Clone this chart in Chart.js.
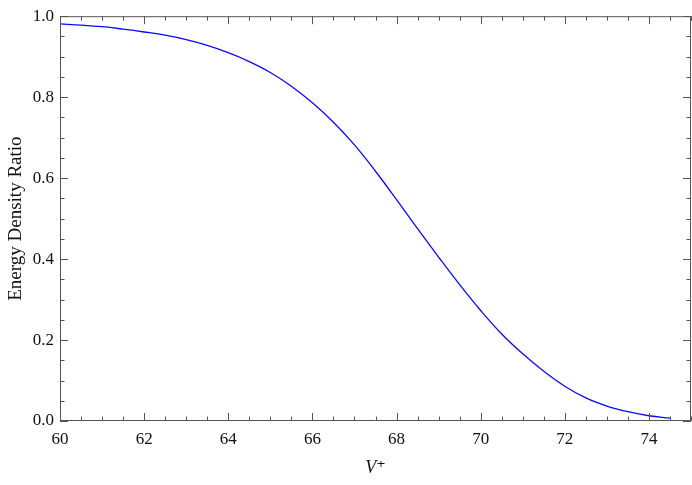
<!DOCTYPE html>
<html>
<head>
<meta charset="utf-8">
<script src="https://cdn.jsdelivr.net/npm/chart.js@4.4.0/dist/chart.umd.min.js"></script>
<style>
  body{margin:0;background:#fff;}
  canvas{display:block;}
</style>
</head>
<body>
<canvas id="chart" width="692" height="485"></canvas>
<script>
// ---------------------------
// Data
// ---------------------------
const vPlus = [60, 60.5, 61, 61.5, 62, 62.5, 63, 63.5, 64, 64.5, 65, 65.5, 66, 66.5, 67,
               67.5, 68, 68.5, 69, 69.5, 70, 70.5, 71, 71.5, 72, 72.5, 73, 73.5, 74, 74.5];
const ratio = [0.981, 0.978, 0.974, 0.968, 0.961, 0.953, 0.942, 0.928, 0.910, 0.888, 0.861, 0.827, 0.786, 0.738, 0.682,
               0.617, 0.547, 0.475, 0.405, 0.337, 0.273, 0.215, 0.166, 0.123, 0.086, 0.057, 0.037, 0.023, 0.013, 0.007];

const xTicks = [60, 62, 64, 66, 68, 70, 72, 74];
const yTicks = [0.0, 0.2, 0.4, 0.6, 0.8, 1.0];

const serif = "'Liberation Serif', 'DejaVu Serif', serif";
const frameColor = "#555";

// ---------------------------
// Frame with inside ticks (Mathematica style)
// ---------------------------
const framePlugin = {
  id: "frame",
  afterDraw(chart){
    const {ctx, chartArea:a, scales} = chart;
    const xs = scales.x, ys = scales.y;
    ctx.save();
    ctx.strokeStyle = frameColor;
    ctx.lineWidth = 1;
    ctx.beginPath();
    ctx.rect(a.left + 0.5, a.top + 0.5, a.right - a.left - 1, a.bottom - a.top - 1);
    ctx.stroke();

    ctx.beginPath();
    for(let i = 0; i <= 30; i++){
      const v = 60 + i*0.5;
      const px = Math.round(xs.getPixelForValue(v)) + 0.5;
      const len = (i % 4 === 0) ? 8 : 4.5;
      ctx.moveTo(px, a.bottom); ctx.lineTo(px, a.bottom - len);
      ctx.moveTo(px, a.top);    ctx.lineTo(px, a.top + len);
    }
    for(let i = 0; i <= 20; i++){
      const v = i*0.05;
      const py = Math.round(ys.getPixelForValue(v)) + 0.5;
      const len = (i % 4 === 0) ? 8 : 4.5;
      ctx.moveTo(a.left, py);  ctx.lineTo(a.left + len, py);
      ctx.moveTo(a.right, py); ctx.lineTo(a.right - len, py);
    }
    ctx.stroke();
    ctx.restore();
  }
};

// ---------------------------
// Chart
// ---------------------------
new Chart(document.getElementById("chart"), {
  type: "line",
  data: {
    datasets: [{
      data: vPlus.map((x, i)=>({x, y: ratio[i]})),
      borderColor: "#0a0aff",
      borderWidth: 1.3,
      pointRadius: 0,
      fill: false,
      tension: 0.4
    }]
  },
  options: {
    responsive: false,
    animation: false,
    layout: { padding: { top: 12, right: 1, left: 0, bottom: 0 } },
    plugins: { legend: { display: false }, tooltip: { enabled: false } },
    scales: {
      x: {
        type: "linear",
        min: 60, max: 75,
        afterBuildTicks: s => { s.ticks = xTicks.map(v => ({value: v})); },
        afterFit: s => { s.height = 64; },
        grid: { display: false, drawTicks: false },
        border: { display: false },
        ticks: {
          padding: 8,
          color: "#111",
          font: { family: serif, size: 17 },
          callback: v => String(v)
        },
        title: {
          display: true,
          text: "V\u207A",
          color: "#111",
          padding: { top: 0, bottom: 6 },
          font: { family: serif, size: 18, style: "italic" }
        }
      },
      y: {
        min: 0, max: 1,
        afterBuildTicks: s => { s.ticks = yTicks.map(v => ({value: v})); },
        afterFit: s => { s.width = 60; },
        grid: { display: false, drawTicks: false },
        border: { display: false },
        ticks: {
          padding: 6,
          color: "#111",
          font: { family: serif, size: 17 },
          callback: v => Number(v).toFixed(1)
        },
        title: {
          display: true,
          text: "Energy Density Ratio",
          color: "#111",
          padding: { top: 5, bottom: 0 },
          font: { family: serif, size: 19 }
        }
      }
    }
  },
  plugins: [framePlugin]
});
</script>
</body>
</html>
